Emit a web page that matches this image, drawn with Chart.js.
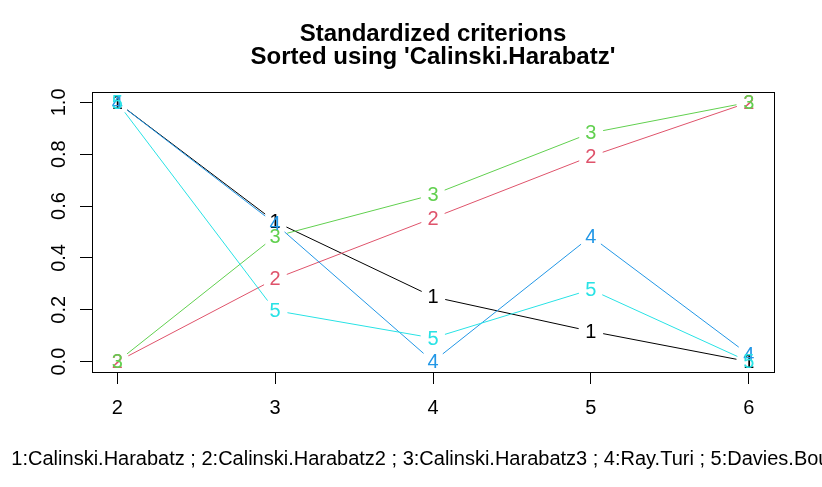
<!DOCTYPE html>
<html>
<head>
<meta charset="utf-8">
<script src="https://cdn.jsdelivr.net/npm/chart.js@4.4.0/dist/chart.umd.min.js"></script>
<style>
  html, body { margin: 0; padding: 0; background: #fff; }
  #wrap { width: 822px; height: 487px; }
</style>
</head>
<body>
<div id="wrap"><canvas id="chart"></canvas></div>
<script>
// number of clusters on the x axis
const clusters = [2, 3, 4, 5, 6];
const yTicks = [0, 0.2, 0.4, 0.6, 0.8, 1.0];

const seriesNames = ['Calinski.Harabatz', 'Calinski.Harabatz2', 'Calinski.Harabatz3', 'Ray.Turi', 'Davies.Bouldin'];
const seriesColors = ['#000000', '#DF536B', '#61D04F', '#2297E6', '#28E2E5'];

const calinski = [1.0, 0.54, 0.25, 0.117, 0.0];
const calinski2 = [0.0, 0.319, 0.554, 0.792, 1.0];
const calinski3 = [0.0, 0.483, 0.644, 0.882, 1.0];
const rayTuri = [1.0, 0.532, 0.0, 0.483, 0.027];
const daviesBouldin = [1.0, 0.197, 0.091, 0.278, 0.0];

const allSeries = [calinski, calinski2, calinski3, rayTuri, daviesBouldin];

const titleLines = ['Standardized criterions', "Sorted using 'Calinski.Harabatz'"];
const subText = seriesNames.map((n, i) => (i + 1) + ':' + n).join(' ; ');

const FONT = '"Liberation Sans", Arial, sans-serif';

// R type="b": lines with a gap round each point, number as the point symbol
const rPlot = {
  id: 'rPlot',
  afterDatasetsDraw(chart) {
    const ctx = chart.ctx;
    const gap = 12.5;
    ctx.save();
    chart.data.datasets.forEach((ds, i) => {
      const pts = chart.getDatasetMeta(i).data;
      ctx.strokeStyle = ds.borderColor;
      ctx.lineWidth = 1;
      for (let j = 0; j < pts.length - 1; j++) {
        const a = pts[j], b = pts[j + 1];
        const dx = b.x - a.x, dy = b.y - a.y;
        const len = Math.sqrt(dx * dx + dy * dy);
        if (len <= gap * 2) continue;
        const ux = dx / len, uy = dy / len;
        ctx.beginPath();
        ctx.moveTo(a.x + ux * gap, a.y + uy * gap);
        ctx.lineTo(b.x - ux * gap, b.y - uy * gap);
        ctx.stroke();
      }
    });
    ctx.font = '20px ' + FONT;
    ctx.textAlign = 'center';
    ctx.textBaseline = 'middle';
    chart.data.datasets.forEach((ds, i) => {
      const pts = chart.getDatasetMeta(i).data;
      ctx.fillStyle = ds.borderColor;
      pts.forEach(p => ctx.fillText(String(i + 1), p.x, p.y + 1));
    });
    ctx.restore();
  },
  afterDraw(chart) {
    const ctx = chart.ctx;
    const a = chart.chartArea;
    const cx = (a.left + a.right) / 2;
    ctx.save();
    ctx.strokeStyle = '#000';
    ctx.lineWidth = 1;
    ctx.strokeRect(Math.round(a.left) + 0.5, Math.round(a.top) + 0.5, Math.round(a.right - a.left), Math.round(a.bottom - a.top));
    ctx.fillStyle = '#000';
    ctx.textAlign = 'center';
    ctx.textBaseline = 'alphabetic';
    ctx.font = 'bold 24px ' + FONT;
    ctx.fillText(titleLines[0], cx, 41);
    ctx.fillText(titleLines[1], cx, 64);
    ctx.font = '20px ' + FONT;
    ctx.fillText(subText, cx + 3, 465);
    ctx.restore();
  }
};

new Chart(document.getElementById('chart'), {
  type: 'line',
  data: {
    datasets: allSeries.map((vals, i) => ({
      label: seriesNames[i],
      data: vals.map((v, j) => ({ x: clusters[j], y: v })),
      borderColor: seriesColors[i],
      showLine: false,
      pointRadius: 0
    }))
  },
  options: {
    responsive: true,
    maintainAspectRatio: false,
    animation: false,
    layout: { padding: { left: 0, top: 92, right: 48, bottom: 0 } },
    plugins: { legend: { display: false }, title: { display: false }, tooltip: { enabled: false } },
    scales: {
      x: {
        type: 'linear',
        min: 1.84,
        max: 6.16,
        afterBuildTicks: s => { s.ticks = clusters.map(v => ({ value: v })); },
        afterFit: s => { s.height = 115; },
        grid: { drawOnChartArea: false, drawTicks: true, tickLength: 12, color: '#000' },
        border: { display: true, color: '#000' },
        ticks: { color: '#000', font: { family: FONT, size: 20 }, padding: 12, autoSkip: false, maxRotation: 0 }
      },
      y: {
        type: 'linear',
        min: -0.04,
        max: 1.04,
        afterBuildTicks: s => { s.ticks = yTicks.map(v => ({ value: v })); },
        afterFit: s => { s.width = 92; },
        grid: { drawOnChartArea: false, drawTicks: true, tickLength: 12, color: '#000' },
        border: { display: true, color: '#000' },
        ticks: {
          color: '#000', font: { family: FONT, size: 20 }, padding: 7,
          minRotation: 90, maxRotation: 90, crossAlign: 'center',
          callback: v => Number(v).toFixed(1)
        }
      }
    }
  },
  plugins: [rPlot]
});
</script>
</body>
</html>
